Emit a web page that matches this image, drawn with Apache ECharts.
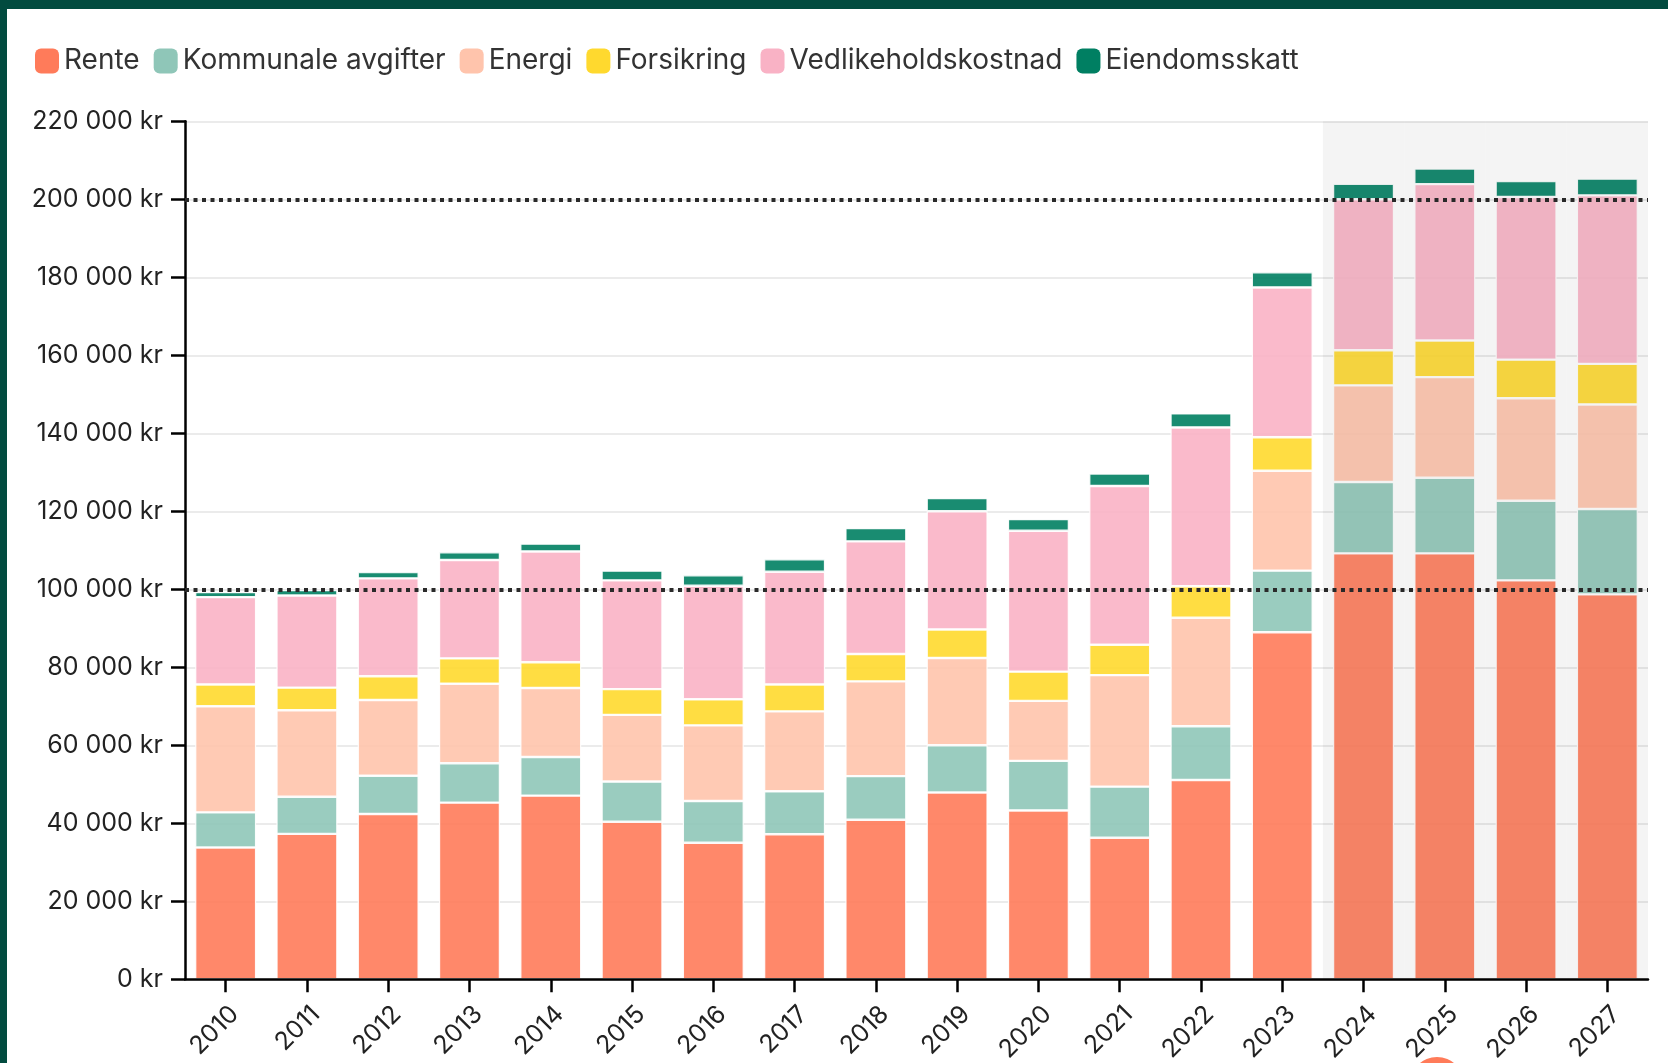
<!DOCTYPE html>
<html>
<head>
<meta charset="utf-8">
<script src="https://cdn.jsdelivr.net/npm/echarts@6/dist/echarts.min.js"></script>
<style>
html,body{margin:0;padding:0;background:#fff;}
#chart{width:1668px;height:1063px;}
</style>
</head>
<body>
<div id="chart"></div>
<script>
const years = ['2010','2011','2012','2013','2014','2015','2016','2017','2018','2019','2020','2021','2022','2023','2024','2025','2026','2027'];
const rente = [33800,37300,42400,45300,47100,40400,35000,37200,40900,47900,43300,36300,51100,89000,109200,109200,102300,98700];
const kommunale = [9000,9500,9800,10100,9900,10300,10700,11000,11200,12100,12700,13100,13800,15800,18300,19400,20400,21900];
const energi = [27200,22200,19400,20400,17700,17100,19400,20500,24300,22400,15400,28600,27800,25600,24800,25800,26300,26800];
const forsikring = [5600,5800,6100,6500,6600,6600,6700,6900,7000,7300,7500,7800,8100,8600,9000,9400,9900,10400];
const vedlikehold = [22400,23600,25100,25200,28400,27900,29100,28900,28900,30300,36100,40700,40700,38400,38700,40100,41700,43200];
const eiendomsskatt = [1300,1400,1600,2000,2000,2500,2700,3200,3400,3400,3000,3200,3600,3900,4000,4000,4100,4300];
const forecastYears = ['2024','2025','2026','2027'];
const yTicks = {min:0, max:220000, interval:20000};
const referenceLines = [100000, 200000];

const seriesNames = ['Rente','Kommunale avgifter','Energi','Forsikring','Vedlikeholdskostnad','Eiendomsskatt'];
const seriesData = [rente, kommunale, energi, forsikring, vedlikehold, eiendomsskatt];
const colors = ['#ff7b5a','#8fc6b8','#ffc4ac','#ffd92e','#f9b2c5','#007f62'];

const FONT = 'Inter, "Noto Sans", sans-serif';

function fmt(v){
  const s = String(Math.round(v));
  return s.replace(/\B(?=(\d{3})+(?!\d))/g, ' ') + ' kr';
}

const chart = echarts.init(document.getElementById('chart'), null, {renderer:'canvas'});

const series = seriesNames.map((name,i)=>({
  name: name,
  type: 'bar',
  stack: 'total',
  xAxisIndex: 0,
  yAxisIndex: 0,
  barCategoryGap: '25%',
  z: 2,
  itemStyle: {color: colors[i], opacity: 0.9, borderColor: '#ffffff', borderWidth: 1.2},
  data: seriesData[i]
}));

series.push({
  name: 'forecast',
  type: 'bar',
  xAxisIndex: 1,
  yAxisIndex: 0,
  silent: true,
  barWidth: '100%',
  barCategoryGap: '0%',
  z: 5,
  itemStyle: {color: 'rgba(0,0,0,0.045)'},
  data: years.map(y => forecastYears.indexOf(y) >= 0 ? yTicks.max : null)
});

series.push({
  name: 'ref',
  type: 'line',
  xAxisIndex: 0,
  yAxisIndex: 0,
  data: [],
  z: 20,
  silent: true,
  markLine: {
    silent: true,
    symbol: ['none','none'],
    label: {show:false},
    lineStyle: {color:'#2a2a2a', width:4, type:[4,4.5], opacity:1},
    emphasis: {disabled: true},
    data: referenceLines.map(v => ({yAxis: v}))
  }
});

chart.setOption({
  animation: false,
  backgroundColor: '#ffffff',
  textStyle: {fontFamily: FONT},
  legend: {
    data: seriesNames,
    left: 30,
    top: 42,
    icon: 'roundRect',
    itemWidth: 24,
    itemHeight: 25,
    itemGap: 14,
    itemStyle: {opacity: 1, borderWidth: 0},
    textStyle: {fontSize: 28, color: '#333333', fontFamily: FONT}
  },
  grid: {left: 185, right: 20, top: 121.3, bottom: 83.7, containLabel: false, outerBoundsMode: 'none'},
  xAxis: [{
    type: 'category',
    data: years,
    boundaryGap: true,
    axisLine: {lineStyle: {color:'#000', width:2.5}},
    axisTick: {show:true, alignWithLabel:true, length:13, lineStyle:{color:'#000', width:2.5}},
    axisLabel: {rotate: 45, fontSize: 25, color:'#222', margin: 22, verticalAlign: 'top', fontFamily: FONT},
    z: 30
  },{
    type: 'category',
    data: years,
    boundaryGap: true,
    show: false
  }],
  yAxis: {
    type: 'value',
    min: yTicks.min,
    max: yTicks.max,
    interval: yTicks.interval,
    axisLine: {show:true, lineStyle:{color:'#000', width:2.5}},
    axisTick: {show:true, length:14, lineStyle:{color:'#000', width:2.5}},
    axisLabel: {formatter: fmt, fontSize: 25, color:'#222', margin: 22, fontFamily: FONT},
    splitLine: {show:true, lineStyle:{color:'#ebebeb', width:2}}
  },
  graphic: [
    {type:'rect', left:0, top:0, shape:{width:1668, height:9}, style:{fill:'#024b3f'}, z:100},
    {type:'rect', left:0, top:0, shape:{width:7, height:1063}, style:{fill:'#024b3f'}, z:100},
    {type:'circle', shape:{cx:1437, cy:1084, r:27}, style:{fill:'#ff7b59'}, z:100}
  ],
  series: series
});
</script>
</body>
</html>
